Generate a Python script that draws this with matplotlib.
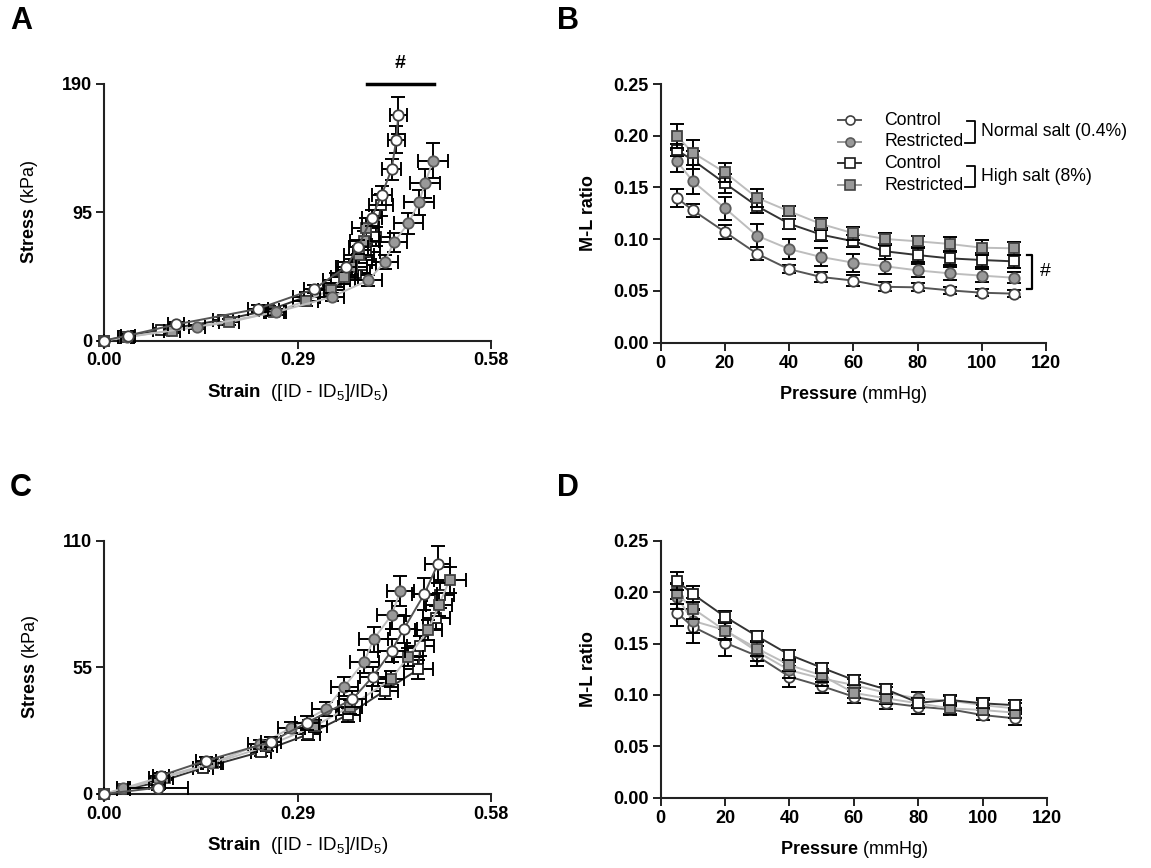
import matplotlib
matplotlib.use('Agg')
import matplotlib.pyplot as plt
import numpy as np

plt.rcParams['font.family'] = ['Liberation Sans', 'DejaVu Sans']
plt.rcParams['mathtext.fontset'] = 'custom'
plt.rcParams['mathtext.rm'] = 'Liberation Sans'
plt.rcParams['mathtext.bf'] = 'Liberation Sans:bold'
plt.rcParams['mathtext.it'] = 'Liberation Sans:italic'

# ---------------- data ----------------
pressure = [5, 10, 20, 30, 40, 50, 60, 70, 80, 90, 100, 110]
series_names = ['Control', 'Restricted', 'Control', 'Restricted']
salt_groups = ['Normal salt (0.4%)', 'High salt (8%)']

# Panel A : stress-strain (normal / high salt, group 1)
a_strain_ctrl_n = [0, 0.036, 0.108, 0.231, 0.314, 0.363, 0.381, 0.401, 0.416, 0.431, 0.438, 0.441]
a_stress_ctrl_n = [0, 3.7, 11.9, 23.5, 37.9, 54.5, 69.4, 90.9, 107.7, 126.8, 148.6, 166.7]
a_xerr_ctrl_n = [0, 0.01, 0.012, 0.015, 0.015, 0.015, 0.014, 0.015, 0.015, 0.014, 0.013, 0.013]
a_yerr_ctrl_n = [0, 1, 1.5, 2.5, 3, 4, 5, 6, 7, 8, 10, 14]

a_strain_rest_n = [0, 0.035, 0.140, 0.258, 0.341, 0.396, 0.421, 0.434, 0.456, 0.472, 0.481, 0.493]
a_stress_rest_n = [0, 2.5, 10.2, 21.0, 32.2, 44.6, 58.2, 72.6, 86.7, 102.3, 116.4, 133.0]
a_xerr_rest_n = [0, 0.01, 0.012, 0.015, 0.018, 0.02, 0.02, 0.02, 0.022, 0.022, 0.022, 0.022]
a_yerr_rest_n = [0, 1, 1.5, 2, 3, 4, 5, 7, 8, 9, 11, 13]

a_strain_ctrl_h = [0, 0.034, 0.086, 0.178, 0.248, 0.302, 0.348, 0.378, 0.387, 0.393, 0.408, 0.415]
a_stress_ctrl_h = [0, 2.8, 7.8, 15.2, 22.6, 32.2, 44.8, 50.0, 56.0, 65.8, 76.9, 100.4]
a_xerr_ctrl_h = [0, 0.01, 0.012, 0.015, 0.015, 0.018, 0.02, 0.02, 0.02, 0.02, 0.02, 0.018]
a_yerr_ctrl_h = [0, 1, 1.5, 2, 3, 4, 5, 5, 6, 6, 7, 8]

a_strain_rest_h = [0, 0.031, 0.102, 0.188, 0.255, 0.302, 0.340, 0.360, 0.372, 0.382, 0.390, 0.392]
a_stress_rest_h = [0, 2.5, 7.4, 13.6, 21.1, 29.2, 37.7, 47.1, 54.5, 63.2, 73.8, 83.0]
a_xerr_rest_h = [0, 0.01, 0.012, 0.015, 0.015, 0.018, 0.02, 0.02, 0.022, 0.022, 0.022, 0.02]
a_yerr_rest_h = [0, 1, 1.5, 2, 3, 4, 5, 5, 6, 6, 7, 8]

# Panel B : M-L ratio vs pressure
b_ctrl_n = [0.140, 0.128, 0.107, 0.086, 0.071, 0.0635, 0.060, 0.054, 0.0535, 0.0506, 0.0483, 0.0474]
b_ctrl_n_err = [0.0085, 0.0065, 0.0065, 0.0065, 0.004, 0.005, 0.005, 0.0045, 0.004, 0.0035, 0.0035, 0.0037]
b_rest_n = [0.1756, 0.156, 0.130, 0.1034, 0.0905, 0.0828, 0.0773, 0.0738, 0.0699, 0.067, 0.0648, 0.0628]
b_rest_n_err = [0.011, 0.012, 0.011, 0.011, 0.0095, 0.009, 0.0085, 0.007, 0.0065, 0.0065, 0.006, 0.0055]
b_ctrl_h = [0.186, 0.1765, 0.154, 0.132, 0.115, 0.1044, 0.098, 0.0883, 0.0847, 0.0815, 0.0799, 0.0786]
b_ctrl_h_err = [0.006, 0.0085, 0.0095, 0.007, 0.005, 0.006, 0.006, 0.007, 0.0065, 0.0065, 0.0065, 0.0065]
b_rest_h = [0.1997, 0.1836, 0.1646, 0.140, 0.127, 0.1147, 0.1057, 0.1002, 0.098, 0.0954, 0.0918, 0.0912]
b_rest_h_err = [0.0118, 0.012, 0.009, 0.009, 0.005, 0.006, 0.006, 0.006, 0.0055, 0.007, 0.007, 0.0065]

# Panel C : stress-strain (group 2)
c_strain_ctrl_n = [0, 0.081, 0.086, 0.153, 0.250, 0.304, 0.372, 0.403, 0.431, 0.449, 0.480, 0.500]
c_stress_ctrl_n = [0, 2.75, 8.0, 14.5, 22.6, 31.0, 41.1, 51.0, 62.2, 71.5, 86.8, 99.7]
c_xerr_ctrl_n = [0, 0.045, 0.012, 0.015, 0.015, 0.018, 0.02, 0.02, 0.02, 0.02, 0.019, 0.019]
c_yerr_ctrl_n = [0, 1, 1.2, 1.5, 2, 3, 3.5, 4, 5, 6, 7, 8]

c_strain_rest_n = [0, 0.029, 0.079, 0.161, 0.234, 0.281, 0.332, 0.360, 0.390, 0.404, 0.431, 0.444]
c_stress_rest_n = [0, 2.5, 6.8, 13.3, 21.6, 28.8, 36.8, 46.6, 57.5, 67.2, 77.7, 88.1]
c_xerr_rest_n = [0, 0.01, 0.012, 0.015, 0.018, 0.02, 0.02, 0.02, 0.022, 0.022, 0.022, 0.02]
c_yerr_rest_n = [0, 1, 1.2, 1.5, 2, 2.5, 3, 4, 5, 5.5, 6, 6.5]

c_strain_ctrl_h = [0, 0.029, 0.079, 0.149, 0.236, 0.306, 0.365, 0.421, 0.471, 0.474, 0.498, 0.504]
c_stress_ctrl_h = [0, 2.0, 4.9, 11.4, 18.4, 25.9, 34.3, 44.9, 54.1, 64.3, 76.6, 86.4]
c_xerr_ctrl_h = [0, 0.01, 0.012, 0.015, 0.015, 0.018, 0.018, 0.02, 0.022, 0.02, 0.02, 0.02]
c_yerr_ctrl_h = [0, 1, 1.2, 1.5, 2, 2.5, 3, 3.5, 4, 4.5, 5, 5.5]

c_strain_rest_h = [0, 0.029, 0.091, 0.164, 0.244, 0.316, 0.368, 0.430, 0.456, 0.486, 0.502, 0.518]
c_stress_rest_h = [0, 2.0, 7.1, 13.3, 20.8, 29.5, 37.9, 49.8, 59.6, 71.2, 82.1, 92.9]
c_xerr_rest_h = [0, 0.01, 0.012, 0.015, 0.015, 0.018, 0.018, 0.02, 0.022, 0.02, 0.02, 0.024]
c_yerr_rest_h = [0, 1, 1.2, 1.5, 2, 2.5, 3, 3.5, 4, 4.5, 5, 5.5]

# Panel D : M-L ratio vs pressure (group 2)
d_ctrl_n = [0.180, 0.1663, 0.1508, 0.1378, 0.1177, 0.1086, 0.0982, 0.0924, 0.0885, 0.0859, 0.0804, 0.0772]
d_ctrl_n_err = [0.013, 0.016, 0.013, 0.010, 0.010, 0.007, 0.006, 0.006, 0.007, 0.005, 0.005, 0.006]
d_rest_n = [0.1955, 0.172, 0.163, 0.142, 0.124, 0.116, 0.1096, 0.102, 0.0966, 0.0944, 0.090, 0.0869]
d_rest_n_err = [0.012, 0.012, 0.010, 0.009, 0.008, 0.007, 0.006, 0.006, 0.006, 0.005, 0.005, 0.005]
d_ctrl_h = [0.211, 0.198, 0.176, 0.157, 0.139, 0.1265, 0.1145, 0.1054, 0.0924, 0.095, 0.0918, 0.090]
d_ctrl_h_err = [0.009, 0.008, 0.006, 0.005, 0.005, 0.005, 0.005, 0.005, 0.005, 0.005, 0.005, 0.005]
d_rest_h = [0.1988, 0.184, 0.1625, 0.145, 0.129, 0.119, 0.102, 0.0966, 0.0918, 0.0869, 0.0853, 0.0827]
d_rest_h_err = [0.010, 0.010, 0.008, 0.007, 0.006, 0.006, 0.005, 0.005, 0.005, 0.005, 0.005, 0.005]

# ---------------- styles ----------------
styles = [
    dict(marker='o', mfc='white', mec='#404040', color='#555555'),   # control normal
    dict(marker='o', mfc='#999999', mec='#5a5a5a', color='#bdbdbd'), # restricted normal
    dict(marker='s', mfc='white', mec='#1a1a1a', color='#333333'),   # control high
    dict(marker='s', mfc='#999999', mec='#404040', color='#bdbdbd'), # restricted high
]
MS = 7.5
TICKFS = 13


def draw(ax, x, y, st, xerr=None, yerr=None, z=3):
    ax.errorbar(x, y, xerr=xerr, yerr=yerr, fmt='none', ecolor='black',
                elinewidth=1.4, capsize=5, capthick=1.4, zorder=z, clip_on=False)
    ax.plot(x, y, color=st['color'], lw=1.4, zorder=z + 0.1, clip_on=False)
    ax.plot(x, y, ls='none', marker=st['marker'], ms=MS, mfc=st['mfc'],
            mec=st['mec'], mew=1.3, zorder=z + 0.2, clip_on=False)


def style_axes(ax):
    for s in ['top', 'right']:
        ax.spines[s].set_visible(False)
    for s in ['left', 'bottom']:
        ax.spines[s].set_linewidth(1.5)
        ax.spines[s].set_color('#222222')
    ax.tick_params(direction='out', length=6, width=1.4, colors='#222222',
                   labelsize=TICKFS, pad=2.5)
    for lab in ax.get_xticklabels() + ax.get_yticklabels():
        lab.set_fontweight('bold')
        lab.set_color('black')


fig = plt.figure(figsize=(11.51, 8.68), dpi=100)
W, H = 1151, 868


def axes_px(l, r, t, b):
    return fig.add_axes([l / W, 1 - b / H, (r - l) / W, (b - t) / H])


axA = axes_px(104, 491, 84, 340.5)
axB = axes_px(660.7, 1046, 84, 342.7)
axC = axes_px(104, 491, 540.7, 794)
axD = axes_px(660.7, 1047, 540.7, 797.7)

# ---- Panel A ----
draw(axA, a_strain_ctrl_h, a_stress_ctrl_h, styles[2], a_xerr_ctrl_h, a_yerr_ctrl_h, z=3)
draw(axA, a_strain_rest_h, a_stress_rest_h, styles[3], a_xerr_rest_h, a_yerr_rest_h, z=4)
draw(axA, a_strain_rest_n, a_stress_rest_n, styles[1], a_xerr_rest_n, a_yerr_rest_n, z=5)
draw(axA, a_strain_ctrl_n, a_stress_ctrl_n, styles[0], a_xerr_ctrl_n, a_yerr_ctrl_n, z=6)
axA.set_xlim(0, 0.58)
axA.set_ylim(0, 190)
axA.set_xticks([0, 0.29, 0.58])
axA.set_xticklabels(['0.00', '0.29', '0.58'])
axA.set_yticks([0, 95, 190])
axA.plot([0.394, 0.495], [190, 190], color='black', lw=2.5, clip_on=False)
axA.text(0.4445, 199, '#', ha='center', va='bottom', fontsize=14, fontweight='bold')

# ---- Panel C ----
draw(axC, c_strain_ctrl_h, c_stress_ctrl_h, styles[2], c_xerr_ctrl_h, c_yerr_ctrl_h, z=3)
draw(axC, c_strain_rest_h, c_stress_rest_h, styles[3], c_xerr_rest_h, c_yerr_rest_h, z=4)
draw(axC, c_strain_rest_n, c_stress_rest_n, styles[1], c_xerr_rest_n, c_yerr_rest_n, z=5)
draw(axC, c_strain_ctrl_n, c_stress_ctrl_n, styles[0], c_xerr_ctrl_n, c_yerr_ctrl_n, z=6)
axC.set_xlim(0, 0.58)
axC.set_ylim(0, 110)
axC.set_xticks([0, 0.29, 0.58])
axC.set_xticklabels(['0.00', '0.29', '0.58'])
axC.set_yticks([0, 55, 110])

# ---- Panel B ----
draw(axB, pressure, b_ctrl_n, styles[0], yerr=b_ctrl_n_err, z=3)
draw(axB, pressure, b_rest_n, styles[1], yerr=b_rest_n_err, z=4)
draw(axB, pressure, b_ctrl_h, styles[2], yerr=b_ctrl_h_err, z=5)
draw(axB, pressure, b_rest_h, styles[3], yerr=b_rest_h_err, z=6)

# ---- Panel D ----
draw(axD, pressure, d_ctrl_n, styles[0], yerr=d_ctrl_n_err, z=3)
draw(axD, pressure, d_rest_n, styles[1], yerr=d_rest_n_err, z=4)
draw(axD, pressure, d_rest_h, styles[3], yerr=d_rest_h_err, z=5)
draw(axD, pressure, d_ctrl_h, styles[2], yerr=d_ctrl_h_err, z=6)

for ax in (axB, axD):
    ax.set_xlim(0, 120)
    ax.set_ylim(0, 0.25)
    ax.set_xticks(np.arange(0, 121, 20))
    ax.set_yticks(np.arange(0, 0.251, 0.05))
    ax.set_yticklabels(['%.2f' % v for v in np.arange(0, 0.251, 0.05)])

# significance bracket in B
axB.plot([114, 115.5, 115.5, 114], [0.0847, 0.0847, 0.052, 0.052], color='black',
         lw=1.6, clip_on=False)
axB.text(118, 0.0685, '#', ha='left', va='center', fontsize=14)

for ax in (axA, axB, axC, axD):
    style_axes(ax)

# axis labels
LABFS = 13
for ax in (axA, axC):
    ax.set_ylabel(r'$\mathbf{Stress}$ (kPa)', fontsize=LABFS, labelpad=16)
    ax.set_xlabel(r'$\mathbf{Strain}$  ([ID - ID$_5$]/ID$_5$)', fontsize=13.5, labelpad=9)
for ax in (axB, axD):
    ax.set_ylabel('M-L ratio', fontsize=LABFS, fontweight='bold', labelpad=12)
    ax.set_xlabel(r'$\mathbf{Pressure}$ (mmHg)', fontsize=LABFS, labelpad=9)

# legend in B (drawn manually in pixel space)
LEGFS = 12.7
rows_py = [120, 141.7, 163.3, 185]
for st, name, py in zip(styles, series_names, rows_py):
    yf = 1 - py / H
    fig.add_artist(plt.Line2D([838 / W, 861 / W], [yf, yf], color=st['color'] if st['color'] != '#bdbdbd' else '#9a9a9a', lw=1.4))
    fig.add_artist(plt.Line2D([849.5 / W], [yf], ls='none', marker=st['marker'], ms=6.5,
                              mfc=st['mfc'], mec=st['mec'], mew=1.2))
    fig.text(884 / W, yf, name, fontsize=LEGFS, va='center', ha='left')
for (t, b), label in zip([(120.7, 142.7), (165.7, 187.3)], salt_groups):
    tf, bf = 1 - t / H, 1 - b / H
    fig.add_artist(plt.Line2D([967 / W, 975 / W, 975 / W, 965 / W], [tf, tf, bf, bf],
                              color='black', lw=1.3))
    fig.text(981 / W, (tf + bf) / 2, label, fontsize=LEGFS, va='center', ha='left')

# panel letters
for letter, (px, py) in zip('ABCD', [(10, 6), (557, 6), (10, 473), (557, 473)]):
    fig.text(px / W, 1 - py / H, letter, fontsize=22, fontweight='bold', va='top', ha='left')

fig.savefig('out.png', dpi=100)
